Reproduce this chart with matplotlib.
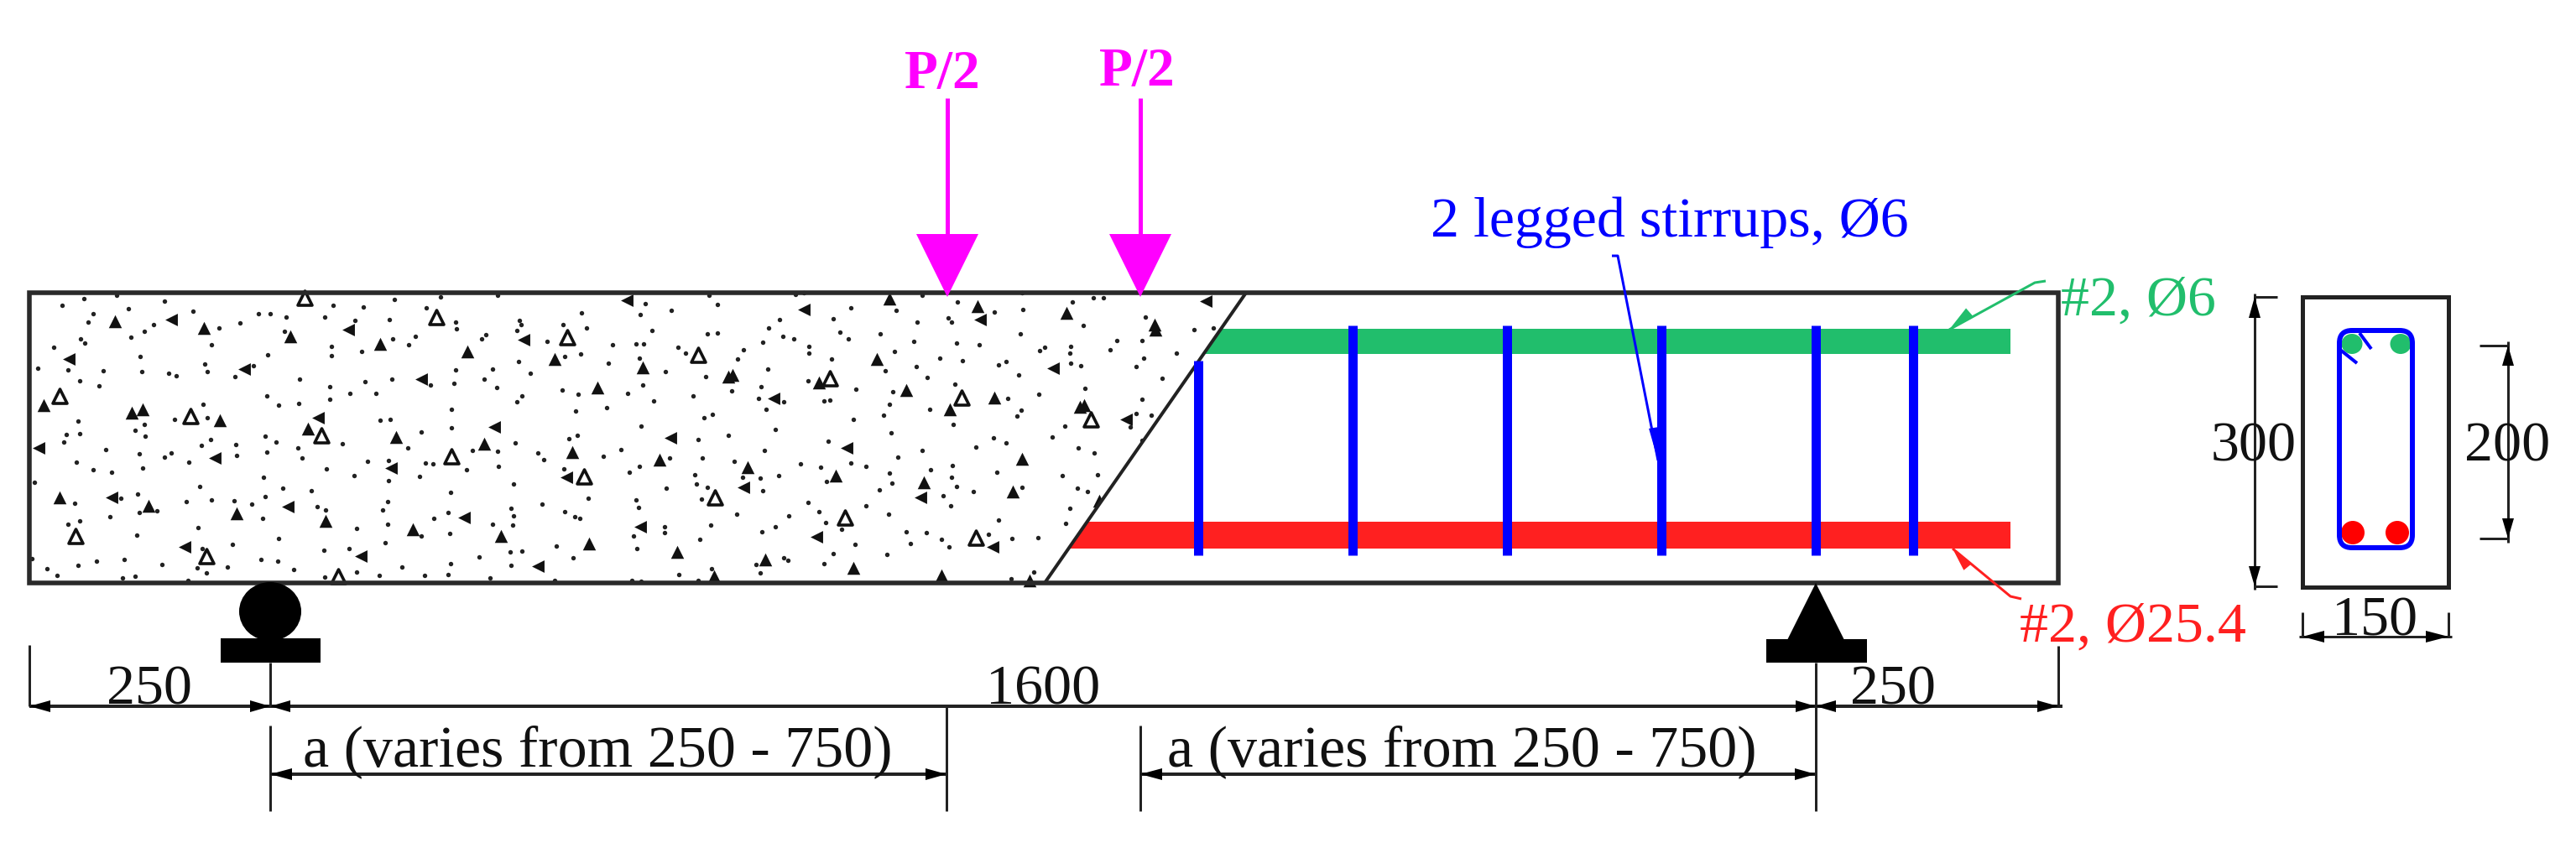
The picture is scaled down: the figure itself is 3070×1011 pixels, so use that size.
import matplotlib
matplotlib.use("Agg")
import matplotlib.pyplot as plt
import numpy as np
from matplotlib.patches import Ellipse, FancyBboxPatch, Polygon, Rectangle

# ==========================================
# DRAWING DATA (image pixels)
# ==========================================

beam_left, beam_right = 35, 2453
beam_top, beam_bottom = 349, 695
cut_top_x, cut_bottom_x = 1485, 1245

stirrup_x = [1428, 1612, 1796, 1980, 2164, 2280]
load_x = [1129, 1359]
support_x = [322, 2164]

crop_origins = [(30, 345), (450, 345), (870, 345), (1290, 345)]

dots_a = [(133,58),(243,88),(225,118),(368,68),(499,43),(601,78),(835,88),(875,88),(933,98),(1070,98),(1100,58),(1208,63),(1178,110),(767,121),(694,137),(460,127),(425,150),(379,172),(198,178),(213,193),(102,208),(667,197),(926,150),(1094,204),(1094,236),(1203,221),(868,234),(411,241),(45,282),(154,287),(280,292),(418,295),(514,301),(541,309),(641,267),(651,295),(749,312),(817,272),(194,326),(263,345),(982,321),(1089,349),(1089,394),(1160,373),(1216,331),(1253,373),(863,380),(905,415),(978,408),(635,412),(188,471),(426,483),(534,466),(650,459),(393,503),(430,525),(148,519),(194,516),(137,547),(662,536),(630,558),(754,556),(859,526),(897,545),(974,567),(864,582),(755,595),(989,604),(288,574),(408,587),(522,584),(498,600),(586,619),(183,618),(242,645),(310,655),(420,639),(1078,641),(1224,614),(1177,666),(34,691),(852,673),(625,705),(922,711),(1023,719),(857,740),(403,733),(342,748),(178,765),(576,758),(666,753),(747,755),(810,768),(1044,778),(1073,788),(409,797),(470,792),(304,813),(194,828),(152,841),(848,819),(619,851),(1185,855),(398,879),(907,892),(742,913),(1068,934),(1158,927),(632,927),(842,965),(904,972),(354,965),(255,973),(188,986),(79,1000),(115,1022),(489,983),(614,997),(648,1015),(724,992),(959,1002),(1070,1028),(348,1031),(392,1025),(24,963),(1133,552),(1186,1012),(581,1041),(326,22),(210,34)]
dots_b = [(60,35),(225,28),(430,22),(1185,20),(958,50),(1215,53),(175,66),(1049,76),(730,84),(940,91),(43,108),(278,118),(283,142),(508,110),(514,127),(497,148),(662,126),(746,138),(980,148),(136,167),(55,176),(387,161),(371,177),(605,186),(1178,158),(1215,157),(110,198),(839,197),(924,195),(952,196),(1073,206),(1100,227),(725,230),(668,240),(935,247),(504,258),(824,264),(278,288),(411,285),(547,299),(1029,293),(1173,312),(51,321),(380,321),(190,342),(272,336),(425,351),(948,343),(659,360),(718,375),(894,371),(1128,380),(517,380),(498,403),(986,400),(819,422),(709,435),(265,428),(8,468),(44,466),(1168,458),(1196,446),(265,494),(941,489),(155,509),(714,522),(685,534),(1147,537),(1255,521),(491,550),(107,566),(339,575),(429,578),(573,585),(594,609),(808,596),(870,573),(1161,603),(1043,604),(172,622),(198,625),(39,612),(432,634),(317,646),(937,633),(900,655),(666,643),(151,668),(40,683),(1134,664),(1141,695),(1178,708),(487,696),(1032,710),(262,727),(754,746),(1157,749),(923,752),(932,781),(35,759),(18,789),(588,767),(478,782),(668,795),(487,809),(252,798),(201,819),(706,813),(723,819),(36,841),(411,839),(482,842),(1026,850),(1026,870),(1190,842),(257,873),(155,883),(916,883),(28,905),(1151,895),(639,919),(926,927),(473,940),(516,937),(363,956),(698,960),(261,981),(477,988),(86,992),(7,1022),(167,1022),(252,1019),(401,1032),(634,1042),(910,1042),(941,1044),(1076,1019),(1145,1042),(1195,1000)]
dots_c = [(235,18),(265,13),(688,22),(1043,13),(814,46),(1224,44),(431,65),(593,74),(946,81),(1048,73),(176,108),(368,104),(781,102),(793,117),(670,118),(139,137),(393,153),(424,177),(536,160),(1037,158),(190,167),(228,176),(117,190),(658,187),(809,192),(892,197),(47,216),(281,204),(281,228),(587,221),(1125,207),(1108,219),(1217,204),(1215,228),(26,249),(362,250),(751,246),(832,255),(986,257),(960,271),(1217,265),(1255,274),(665,276),(135,284),(555,291),(1032,305),(705,314),(278,327),(112,349),(805,339),(449,358),(5,363),(581,367),(101,391),(192,403),(336,400),(358,397),(992,391),(1103,376),(570,410),(128,430),(715,428),(1040,431),(1025,452),(549,449),(440,464),(1197,488),(798,484),(163,500),(576,512),(1153,527),(942,532),(987,548),(351,543),(878,565),(124,576),(686,576),(1246,567),(599,600),(16,615),(251,624),(324,637),(432,622),(485,634),(794,630),(717,645),(953,655),(571,658),(175,665),(109,674),(45,673),(1188,665),(345,686),(578,693),(791,673),(811,704),(535,716),(118,721),(871,722),(1241,712),(1045,708),(762,738),(279,761),(788,775),(485,773),(24,803),(319,795),(209,810),(566,804),(1215,783),(341,835),(163,848),(398,857),(960,826),(1199,838),(113,867),(631,867),(702,871),(923,875),(1009,890),(1100,887),(757,895),(646,910),(782,922),(446,913),(370,946),(561,949),(193,960),(206,968),(92,984),(335,981),(107,1015),(1085,1010),(1005,1036)]
dots_d = [(224,100),(2,128),(124,182),(212,183),(100,217),(218,246),(192,276),(335,227),(400,145),(467,138),(285,318),(8,353),(212,392),(193,444),(247,450),(170,492),(212,540),(42,584),(55,664),(18,722),(40,30),(75,30)]

solid_a = [(320,114),(522,108),(638,137),(948,168),(1155,145),(155,250),(783,285),(67,415),(380,442),(420,430),(697,468),(1047,460),(1010,498),(48,568),(678,603),(124,745),(308,745),(440,775),(757,800),(940,778),(1073,828),(570,920),(1200,955)]
solid_b = [(890,38),(523,180),(320,223),(632,250),(947,278),(155,322),(785,352),(418,492),(65,527),(380,552),(695,582),(1047,532),(1008,608),(47,638),(676,672),(310,815),(125,857),(440,883),(940,848),(757,910),(1070,938),(572,990),(1203,1025),(1255,312),(10,195)]
solid_c = [(570,32),(263,72),(885,60),(893,107),(1202,85),(525,248),(1155,283),(318,332),(630,360),(155,390),(945,388),(785,428),(1252,420),(417,567),(1043,605),(62,635),(378,665),(693,690),(47,708),(680,745),(1012,722),(310,885),(940,920),(125,965),(440,995),(755,1022),(1072,1040),(10,305)]
solid_d = [(258,125),(262,145),(440,42),(155,465),(60,755),(5,415)]

hollow_a = [(1000,30),(122,380),(590,452),(1060,523),(180,882),(648,953),(1118,1025)]
hollow_b = [(210,100),(678,172),(1147,235),(265,598),(738,670),(1205,745)]
hollow_c = [(358,318),(828,388),(412,817),(880,888)]
hollow_d = [(30,465)]

# left pointing ones among the solid triangles
left_a = {(522,108),(1155,145),(155,250),(783,285),(1047,460),(48,568),(678,603),(308,745),(940,778),(570,920),(1200,955)}
left_b = {(890,38),(523,180),(155,322),(418,492),(1047,532),(47,638),(676,672),(310,815),(940,848),(572,990)}
left_c = {(263,72),(893,107),(1155,283),(155,390),(417,567),(47,708),(680,745),(310,885),(940,920)}
left_d = {(440,42),(155,465)}

GREEN = "#21BE6C"
RED = "#FF2020"
BLUE = "#0000FF"
MAGENTA = "#FF00FF"
INK = "#222222"

plt.rcParams["font.family"] = ["Liberation Serif", "DejaVu Serif"]

fig = plt.figure(figsize=(30.7, 10.11), dpi=100)
ax = fig.add_axes([0, 0, 1, 1])
ax.set_xlim(0, 3070)
ax.set_ylim(1011, 0)
ax.axis("off")


def line(xs, ys, px=4, color=INK, z=3):
    ax.plot(xs, ys, color=color, lw=px * 0.72, solid_capstyle="butt", zorder=z)


def head(tip, tail, half=7, color="black"):
    tip, tail = np.array(tip, float), np.array(tail, float)
    d = (tip - tail) / np.hypot(*(tip - tail))
    n = np.array([-d[1], d[0]])
    ax.add_patch(Polygon([tip, tail + n * half, tail - n * half], closed=True,
                         fc=color, ec="none", zorder=4))


def label(x, y, s, color="#111111", size=49, ha="center", **kw):
    ax.text(x, y, s, color=color, fontsize=size, ha=ha, va="baseline", zorder=6, **kw)


# ==========================================
# CONCRETE AGGREGATE
# ==========================================

for origin, dots, solid, hollow, left in zip(
    crop_origins,
    [dots_a, dots_b, dots_c, dots_d],
    [solid_a, solid_b, solid_c, solid_d],
    [hollow_a, hollow_b, hollow_c, hollow_d],
    [left_a, left_b, left_c, left_d],
):
    d = np.array(dots) / 3 + origin
    ax.scatter(d[:, 0], d[:, 1], s=15, color=INK, linewidths=0, zorder=2)
    up = np.array([p for p in solid if p not in left]) / 3 + origin
    lf = np.array([p for p in solid if p in left]) / 3 + origin
    ax.scatter(up[:, 0], up[:, 1], s=125, marker="^", color="#111111", linewidths=0, zorder=2)
    ax.scatter(lf[:, 0], lf[:, 1], s=115, marker="<", color="#111111", linewidths=0, zorder=2)
    h = np.array(hollow) / 3 + origin
    ax.scatter(h[:, 0], h[:, 1], s=150, marker="^", facecolors="white",
               edgecolors="#111111", linewidths=2.6, zorder=2)

# ==========================================
# BEAM AND BARS
# ==========================================

ax.add_patch(Polygon(
    [(cut_top_x, beam_top), (beam_right + 30, beam_top), (beam_right + 30, beam_bottom), (cut_bottom_x, beam_bottom)],
    closed=True, fc="white", ec="none", zorder=2.5))
line([cut_top_x, cut_bottom_x], [beam_top, beam_bottom], px=4)
ax.add_patch(Polygon([(1456, 392), (2396, 392), (2396, 422), (1436, 422)], closed=True,
                     fc=GREEN, ec="none", zorder=2.7))
ax.add_patch(Polygon([(1297, 622), (2396, 622), (2396, 654), (1275, 654)], closed=True,
                     fc=RED, ec="none", zorder=2.7))
ax.add_patch(Rectangle((beam_left, beam_top), beam_right - beam_left, beam_bottom - beam_top,
                       fc="none", ec="#2a2a2a", lw=4, zorder=3))

for i, x in enumerate(stirrup_x):
    line([x, x], [430 if i == 0 else 388, 662], px=11, color=BLUE, z=3.5)

# leaders
line([1921, 1928, 1976], [305, 305, 549], px=3, color=BLUE, z=3.6)
head((1979, 560), (1971, 510), half=6, color=BLUE)
line([2438, 2425, 2323], [335, 337, 393], px=3, color=GREEN, z=3.6)
head((2323, 393), (2347, 372), half=6, color=GREEN)
line([2327, 2396, 2409], [654, 711, 714], px=3, color=RED, z=3.6)
head((2327, 654), (2345, 676), half=6, color=RED)

# ==========================================
# LOADS AND SUPPORTS
# ==========================================

for x in load_x:
    line([x, x], [117, 285], px=5, color=MAGENTA)
    ax.add_patch(Polygon([(x - 37, 279), (x + 37, 279), (x, 354)], closed=True,
                         fc=MAGENTA, ec="none", zorder=4))
label(1123, 105, "P/2", color=MAGENTA, size=47, fontweight="bold")
label(1355, 102, "P/2", color=MAGENTA, size=47, fontweight="bold")

ax.add_patch(Ellipse((322, 729), 74, 70, fc="black", ec="none", zorder=4))
ax.add_patch(Rectangle((263, 761), 119, 29, fc="black", ec="none", zorder=4))
ax.add_patch(Polygon([(2164, 695), (2199, 765), (2129, 765)], closed=True, fc="black", ec="none", zorder=4))
ax.add_patch(Rectangle((2105, 762), 120, 28, fc="black", ec="none", zorder=4))

# ==========================================
# DIMENSIONS
# ==========================================

line([beam_left, beam_right + 5], [842, 842], px=4)
line([beam_left, beam_left], [769, 842], px=3)
line([beam_right, beam_right], [770, 842], px=3)
head((beam_left, 842), (60, 842))
head((beam_right, 842), (2428, 842))
for x in support_x:
    line([x, x], [790, 842], px=3)
    head((x, 842), (x - 24, 842))
    head((x, 842), (x + 24, 842))
line([322, 322], [865, 967], px=3)
line([2164, 2164], [842, 967], px=3)
line([1128, 1128], [842, 967], px=3)
line([1359, 1359], [865, 967], px=3)
line([322, 1128], [923, 923], px=4)
line([1359, 2164], [923, 923], px=4)
head((322, 923), (348, 923))
head((1128, 923), (1103, 923))
head((1359, 923), (1385, 923))
head((2164, 923), (2139, 923))

label(178, 839, "250")
label(1243, 839, "1600")
label(2256, 839, "250")
label(712, 913, "a (varies from 250 - 750)", size=50.5)
label(1742, 913, "a (varies from 250 - 750)", size=50.5)

label(1990, 282, "2 legged stirrups, Ø6", color=BLUE)
label(2548, 376, "#2, Ø6", color=GREEN)
label(2542, 765, "#2, Ø25.4", color=RED)

# ==========================================
# CROSS SECTION
# ==========================================

ax.add_patch(Rectangle((2744, 354), 174, 346, fc="white", ec="#222222", lw=3.6, zorder=3))
ax.add_patch(FancyBboxPatch((2803, 409), 57, 229, boxstyle="round,pad=15,rounding_size=15",
                            fc="none", ec=BLUE, lw=4.3, zorder=5))
for x, y in [(2803, 410), (2861, 410)]:
    ax.add_patch(Ellipse((x, y), 25, 24, fc=GREEN, ec="none", zorder=4))
for x, y in [(2804, 635), (2857, 635)]:
    ax.add_patch(Ellipse((x, y), 28, 28, fc="#FF0000", ec="none", zorder=4))
line([2812, 2826], [397, 416], px=4, color=BLUE, z=5)
line([2789, 2809], [417, 433], px=4, color=BLUE, z=5)

line([2687, 2687], [350, 703], px=3)
line([2687, 2714], [354, 354], px=3)
line([2687, 2714], [699, 699], px=3)
head((2687, 354), (2687, 379))
head((2687, 699), (2687, 675))

line([2989, 2989], [407, 647], px=3)
line([2955, 2989], [412, 412], px=3)
line([2955, 2989], [642, 642], px=3)
head((2989, 412), (2989, 436))
head((2989, 642), (2989, 618))

line([2740, 2922], [759, 759], px=3)
line([2744, 2744], [730, 759], px=3)
line([2918, 2918], [730, 759], px=3)
head((2744, 759), (2770, 759))
head((2918, 759), (2891, 759))

label(2686, 549, "300")
label(2988, 549, "200")
label(2830, 757, "150")

fig.savefig("out.png", dpi=100, facecolor="white")
